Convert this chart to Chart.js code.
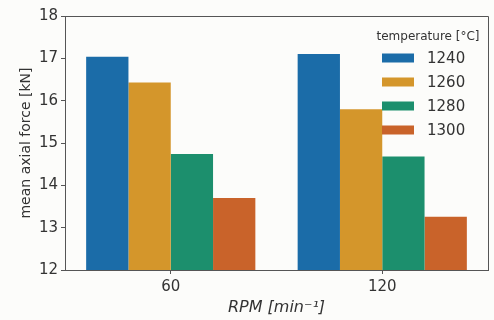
<!DOCTYPE html>
<html>
<head>
<meta charset="utf-8">
<script src="https://cdn.jsdelivr.net/npm/chart.js@4"></script>
<style>
  html, body { margin: 0; padding: 0; background: #fcfcfa; }
  #wrap { width: 494px; height: 320px; }
</style>
</head>
<body>
<div id="wrap"><canvas id="myChart" width="494" height="320"></canvas></div>
<script>
"use strict";

//////// data
const rpm = ["60", "120"];
const temps = ["1240", "1260", "1280", "1300"];
const force1240 = [17.04, 17.1];
const force1260 = [16.43, 15.8];
const force1280 = [14.74, 14.68];
const force1300 = [13.7, 13.26];
const yTicks = [12, 13, 14, 15, 16, 17, 18];

const colors = ["#1b6ca8", "#d4962b", "#1c8f6d", "#c9632a"];
const series = [force1240, force1260, force1280, force1300];
const font = "'DejaVu Sans', sans-serif";
const ink = "#333";

// legend drawn inside the plot, top right, like matplotlib
const innerLegend = {
  id: "innerLegend",
  afterDraw(chart) {
    const c = chart.ctx;
    const a = chart.chartArea;
    c.save();
    // top + right spines
    c.strokeStyle = "#555";
    c.lineWidth = 1;
    c.beginPath();
    c.moveTo(a.left, a.top + 0.5);
    c.lineTo(a.right + 0.5, a.top + 0.5);
    c.lineTo(a.right + 0.5, a.bottom);
    c.stroke();

    c.fillStyle = ink;
    c.textBaseline = "middle";
    c.textAlign = "center";
    c.font = "12px " + font;
    c.fillText("temperature [°C]", a.right - 60, a.top + 21);
    c.textAlign = "left";
    c.font = "15px " + font;
    chart.data.datasets.forEach((ds, i) => {
      const y = a.top + 42 + i * 24;
      c.fillStyle = ds.backgroundColor;
      c.fillRect(a.right - 106, y - 4.5, 32, 9);
      c.fillStyle = ink;
      c.fillText(ds.label, a.right - 61, y + 1);
    });
    c.restore();
  },
};

const ctx = document.getElementById("myChart");

new Chart(ctx, {
  type: "bar",
  data: {
    labels: rpm,
    datasets: temps.map((t, i) => ({
      label: t,
      data: series[i],
      backgroundColor: colors[i],
      barPercentage: 1,
      categoryPercentage: 0.8,
    })),
  },
  options: {
    responsive: false,
    animation: false,
    layout: { padding: { left: 0, right: 6, top: 16, bottom: 0 } },
    plugins: {
      legend: { display: false },
      tooltip: { enabled: false },
    },
    scales: {
      x: {
        offset: true,
        grid: { display: true, drawOnChartArea: false, offset: false, tickLength: 4, color: "#555" },
        border: { display: true, color: "#555" },
        ticks: { color: ink, font: { family: font, size: 15 }, padding: 4 },
        title: {
          display: true,
          text: "RPM [min⁻¹]",
          color: ink,
          font: { family: font, size: 16, style: "italic" },
          padding: { top: 0, bottom: 3 },
        },
        afterFit(scale) {
          scale.height = 50;
        },
      },
      y: {
        min: 12,
        max: 18,
        afterBuildTicks(scale) {
          scale.ticks = yTicks.map((v) => ({ value: v }));
        },
        grid: { display: true, drawOnChartArea: false, tickLength: 4, color: "#555" },
        border: { display: true, color: "#555" },
        ticks: { color: ink, font: { family: font, size: 15 }, padding: 3 },
        title: {
          display: true,
          text: "mean axial force [kN]",
          color: ink,
          font: { family: font, size: 14 },
          padding: { top: 18, bottom: 0 },
        },
        afterFit(scale) {
          scale.width = 65;
        },
      },
    },
  },
  plugins: [innerLegend],
});
</script>
</body>
</html>
